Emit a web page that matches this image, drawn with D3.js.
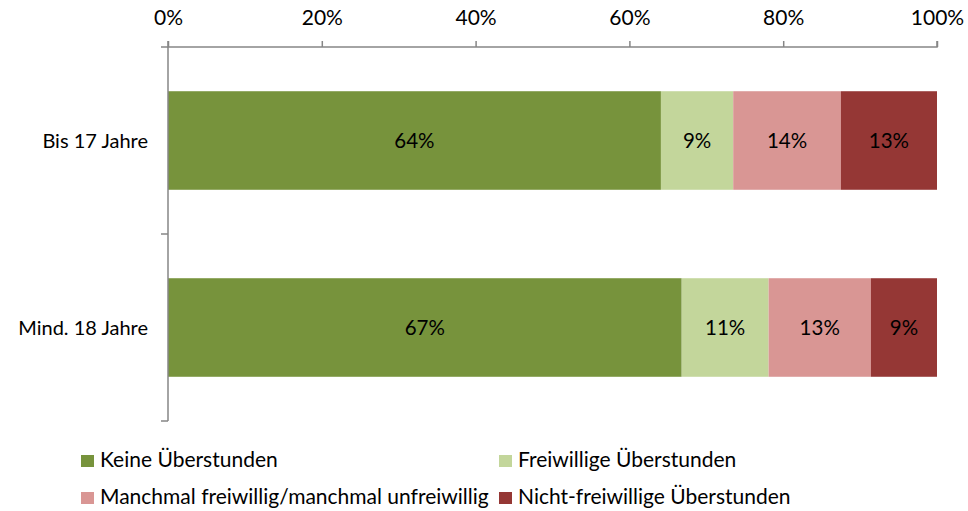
<!DOCTYPE html>
<html>
<head>
<meta charset="utf-8">
<script src="https://cdn.jsdelivr.net/npm/d3@7"></script>
<style>
  body { margin: 0; background: #fff; }
  svg text { font-family: Lato, "Open Sans", sans-serif; fill: #000; }
</style>
</head>
<body>
<svg id="chart" width="968" height="511"></svg>
<script>
// data
const categories = ["Bis 17 Jahre", "Mind. 18 Jahre"];
const seriesNames = ["Keine Überstunden", "Freiwillige Überstunden",
  "Manchmal freiwillig/manchmal unfreiwillig", "Nicht-freiwillige Überstunden"];
const keine = [64.1, 66.8];
const freiwillig = [9.4, 11.3];
const manchmal = [14.0, 13.3];
const nichtFreiwillig = [12.5, 8.6];
const labels = [["64%", "9%", "14%", "13%"], ["67%", "11%", "13%", "9%"]];
const ticks = [0, 20, 40, 60, 80, 100];
const colors = ["#77933C", "#C3D69B", "#D99694", "#953735"];

const values = [keine, freiwillig, manchmal, nichtFreiwillig];
const axisColor = "#868686";

const svg = d3.select("#chart");
const plotLeft = 168, plotRight = 937, plotTop = 47, plotBottom = 421;

let x = d3.scaleLinear().domain([0, 100]).range([plotLeft, plotRight]);
let y = d3.scaleBand().domain(categories).range([plotTop, plotBottom])
  .paddingInner(0.473).paddingOuter(0.2365);

// stacked rows
const rows = categories.map((c, i) => {
  let acc = 0;
  return values.map((s, j) => {
    const seg = { cat: c, j: j, x0: acc, x1: acc + s[i], label: labels[i][j] };
    acc += s[i];
    return seg;
  });
});

const bar = svg.selectAll(".row")
  .data(rows)
  .enter().append("g")
  .attr("class", "row");

bar.selectAll("rect")
  .data(d => d)
  .enter().append("rect")
  .attr("x", d => x(d.x0))
  .attr("y", d => y(d.cat))
  .attr("width", d => x(d.x1) - x(d.x0))
  .attr("height", y.bandwidth())
  .attr("fill", d => colors[d.j]);

bar.selectAll("text")
  .data(d => d)
  .enter().append("text")
  .attr("x", d => (x(d.x0) + x(d.x1)) / 2)
  .attr("y", d => y(d.cat) + y.bandwidth() / 2)
  .attr("dy", ".35em")
  .attr("text-anchor", "middle")
  .style("font-size", "20.5px")
  .text(d => d.label);

// top axis
const xAxis = d3.axisTop(x).tickValues(ticks).tickFormat(d => d + "%")
  .tickSize(6).tickPadding(16);
const gx = svg.append("g")
  .attr("transform", `translate(0,${plotTop})`)
  .call(xAxis);
gx.select(".domain").attr("stroke", axisColor).attr("stroke-width", 1.5)
  .attr("d", `M${plotLeft},-6V0H${plotRight}V-6`);
gx.selectAll(".tick line").attr("stroke", axisColor).attr("stroke-width", 1.5);
gx.selectAll(".tick text").style("font-size", "21px").attr("fill", "#000");

// left axis (category)
svg.append("line")
  .attr("x1", plotLeft).attr("x2", plotLeft)
  .attr("y1", plotTop).attr("y2", plotBottom)
  .attr("stroke", axisColor).attr("stroke-width", 1.5);
const catTicks = [plotTop, ...categories.slice(1).map(c => y(c) - y.step() * y.paddingInner() / 2), plotBottom];
svg.selectAll(".ytick")
  .data(catTicks)
  .enter().append("line")
  .attr("x1", plotLeft - 7).attr("x2", plotLeft)
  .attr("y1", d => d).attr("y2", d => d)
  .attr("stroke", axisColor).attr("stroke-width", 1.5);
svg.selectAll(".ylab")
  .data(categories)
  .enter().append("text")
  .attr("x", 148)
  .attr("y", d => y(d) + y.bandwidth() / 2)
  .attr("dy", ".35em")
  .attr("text-anchor", "end")
  .style("font-size", "20px")
  .text(d => d);

// legend
const legendPos = [[81, 467], [499, 467], [81, 504], [499, 504]];
const leg = svg.selectAll(".legend")
  .data(seriesNames)
  .enter().append("g")
  .attr("transform", (d, i) => `translate(${legendPos[i][0]},${legendPos[i][1]})`);
leg.append("rect")
  .attr("x", 0).attr("y", -12)
  .attr("width", 13).attr("height", 12)
  .attr("fill", (d, i) => colors[i]);
leg.append("text")
  .attr("x", 19)
  .style("font-size", "21px")
  .text(d => d);
</script>
</body>
</html>
